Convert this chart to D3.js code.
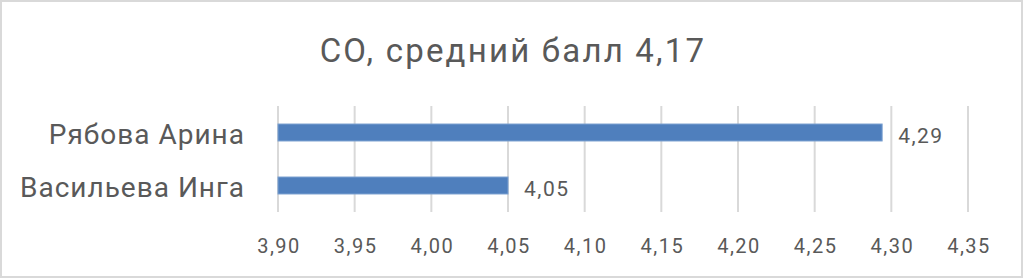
<!DOCTYPE html>
<html>
<head>
<meta charset="utf-8">
<script src="https://cdn.jsdelivr.net/npm/d3@7"></script>
<style>
  body { margin: 0; background: #fff; }
  svg text { font-family: "Roboto", sans-serif; fill: #595959; }
</style>
</head>
<body>
<svg id="chart"></svg>
<script>
const title = "СО, средний балл 4,17";
const names = ["Рябова Арина", "Васильева Инга"];
const scores = [4.294, 4.05];
const ticks = [3.90, 3.95, 4.00, 4.05, 4.10, 4.15, 4.20, 4.25, 4.30, 4.35];

const width = 1024, height = 279;
const plot = { left: 278, right: 968, top: 106, bottom: 212 };
const fmt = v => d3.format(".2f")(v).replace(".", ",");

const svg = d3.select("#chart").attr("width", width).attr("height", height);

svg.append("rect")
    .attr("x", 1).attr("y", 1)
    .attr("width", width - 3).attr("height", height - 3)
    .attr("fill", "#fff")
    .attr("stroke", "#d9d9d9")
    .attr("stroke-width", 2);

svg.append("text")
    .attr("x", 513).attr("y", 62)
    .attr("text-anchor", "middle")
    .style("font-size", "33px")
    .style("letter-spacing", "2.2px")
    .text(title);

const x = d3.scaleLinear().domain([3.90, 4.35]).range([plot.left, plot.right]);
const y = d3.scaleBand().domain(names).range([plot.top, plot.bottom])
    .paddingInner(0.68).paddingOuter(0.34);

// gridlines
svg.append("g")
    .selectAll("line")
    .data(ticks)
    .join("line")
    .attr("x1", d => x(d)).attr("x2", d => x(d))
    .attr("y1", plot.top).attr("y2", plot.bottom)
    .attr("stroke", "#d9d9d9")
    .attr("stroke-width", 2);

// x tick labels
svg.append("g")
    .selectAll("text")
    .data(ticks)
    .join("text")
    .attr("x", d => x(d) + 1).attr("y", 253)
    .attr("text-anchor", "middle")
    .style("font-size", "20px")
    .style("letter-spacing", "1.5px")
    .text(fmt);

// bars
svg.append("g")
    .selectAll("rect")
    .data(names)
    .join("rect")
    .attr("x", x(3.90))
    .attr("y", d => y(d))
    .attr("width", (d, i) => x(scores[i]) - x(3.90))
    .attr("height", y.bandwidth())
    .attr("fill", "#4f7fbd")
    .attr("stroke", "#7aa0d0")
    .attr("stroke-width", 1);

// value labels
svg.append("g")
    .selectAll("text")
    .data(names)
    .join("text")
    .attr("x", (d, i) => x(scores[i]) + 16)
    .attr("y", d => y(d) + y.bandwidth() / 2 + 10)
    .style("font-size", "21px")
    .style("letter-spacing", "1.5px")
    .text((d, i) => fmt(scores[i]));

// category labels
svg.append("g")
    .selectAll("text")
    .data(names)
    .join("text")
    .attr("x", 245)
    .attr("y", d => y(d) + y.bandwidth() / 2 + 11)
    .attr("text-anchor", "end")
    .style("font-size", "28px")
    .style("letter-spacing", "1px")
    .text(d => d);
</script>
</body>
</html>
